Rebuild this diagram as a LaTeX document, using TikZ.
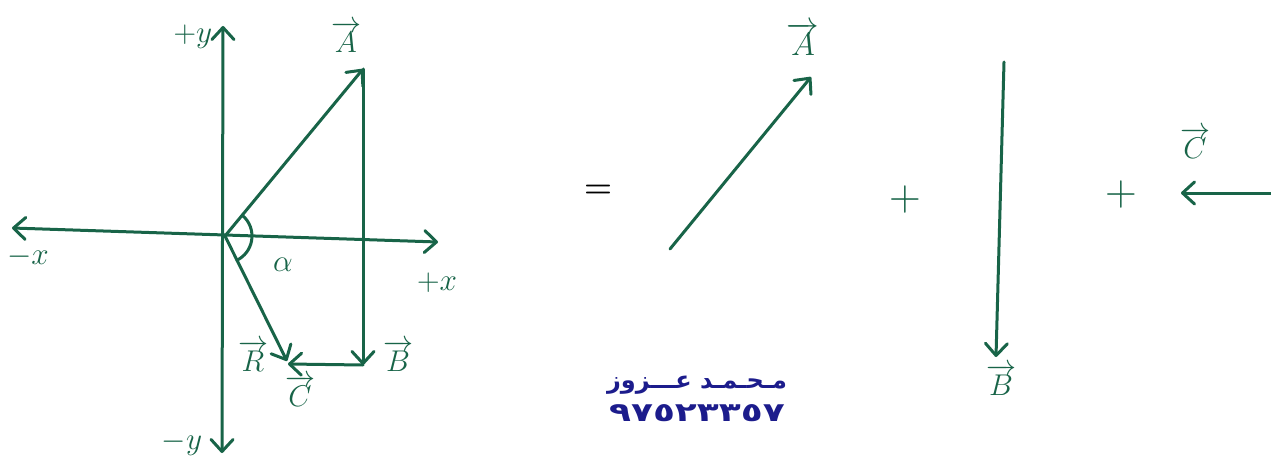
\RequirePackage{fix-cm}
\documentclass[tikz,border=0pt]{standalone}
\usepackage{fontspec}
\usetikzlibrary{arrows.meta}
\newfontfamily\arabicfont[Script=Arabic]{DejaVu Sans}
\TeXXeTstate=1
\definecolor{ink}{RGB}{24,100,72}
\definecolor{navy}{RGB}{28,28,140}
\begin{document}
\begin{tikzpicture}[x=1pt,y=-1pt,
  pen/.style={draw=ink,line width=3pt,line cap=round},
  tip/.tip={Straight Barb[length=12pt,width=22pt,line cap=round,line join=round]},
  vec/.style={pen,-tip},
  biaxis/.style={pen,tip-tip},
  lbl/.style={text=ink,font=\fontsize{25}{27}\selectfont,inner sep=0pt},
  sign/.style={text=ink,font=\fontsize{44}{46}\selectfont,inner sep=0pt},
  sig/.style={text=navy,font=\arabicfont\bfseries\fontsize{24}{26}\selectfont,inner sep=0pt}]
\useasboundingbox (0,0) rectangle (1271,468);
% ---------- left figure ----------
\coordinate (O) at (225,236);
\coordinate (ytop) at (223,26);
\coordinate (ybot) at (222,453);
\coordinate (xl) at (12,228);
\coordinate (xr) at (438,242);
\coordinate (Atip) at (363,69);
\coordinate (Bend) at (363,365);
\coordinate (Cend) at (288,364);
\coordinate (Rend) at (287,361);
\draw[biaxis] (ybot) -- (ytop);
\draw[biaxis] (xl) -- (xr);
\draw[vec] (O) -- (Atip);
\draw[vec] (Atip) -- (Bend);
\draw[vec] (Bend) -- (Cend);
\draw[vec] (O) -- (Rend);
\draw[pen] (O) ++(-50:27) arc[start angle=-50,end angle=64,radius=27];
\node[lbl] (ly) at (193,37) {\scalebox{1.25}{$+y$}};
\node[lbl] (lmy) at (182,443) {\scalebox{1.25}{$-y$}};
\node[lbl] (lmx) at (28,257) {\scalebox{1.25}{$-x$}};
\node[lbl] (lx) at (437,283) {\scalebox{1.25}{$+x$}};
\node[lbl] (la) at (346,37) {\scalebox{1.2}{$\overrightarrow{A}$}};
\node[lbl] (lb) at (398,356) {\scalebox{1.2}{$\overrightarrow{B}$}};
\node[lbl] (lc) at (300,391) {\scalebox{1.2}{$\overrightarrow{C}$}};
\node[lbl] (lr) at (253,356) {\scalebox{1.2}{$\overrightarrow{R}$}};
\node[lbl] (lal) at (283,265) {\scalebox{1.25}{$\alpha$}};
% ---------- right side ----------
\node[text=black,font=\fontsize{32}{34}\selectfont\bfseries,inner sep=0pt] (eq) at (598,191) {=};
\coordinate (ra0) at (670,249);
\coordinate (ra1) at (811,77);
\draw[vec] (ra0) -- (ra1);
\node[lbl] (ra) at (803,39) {\scalebox{1.3}{$\overrightarrow{A}$}};
\node[sign] (p1) at (905,200) {+};
\coordinate (rb0) at (1004,62);
\coordinate (rb1) at (996,357);
\draw[vec] (rb0) -- (rb1);
\node[lbl] (rb) at (1001,380) {\scalebox{1.2}{$\overrightarrow{B}$}};
\node[sign] (p2) at (1121,195) {+};
\coordinate (rc0) at (1272,193);
\coordinate (rc1) at (1181,193);
\draw[vec] (rc0) -- (rc1);
\node[lbl] (rc) at (1195,143) {\scalebox{1.2}{$\overrightarrow{C}$}};
% ---------- signature ----------
\node[sig] (name) at (697,385) {\beginR مـحـمـد عـــزوز\endR};
\node[sig] (phone) at (697,413) {\scalebox{1.5}[1.1]{٩٧٥٢٣٣٥٧}};
\end{tikzpicture}
\end{document}
